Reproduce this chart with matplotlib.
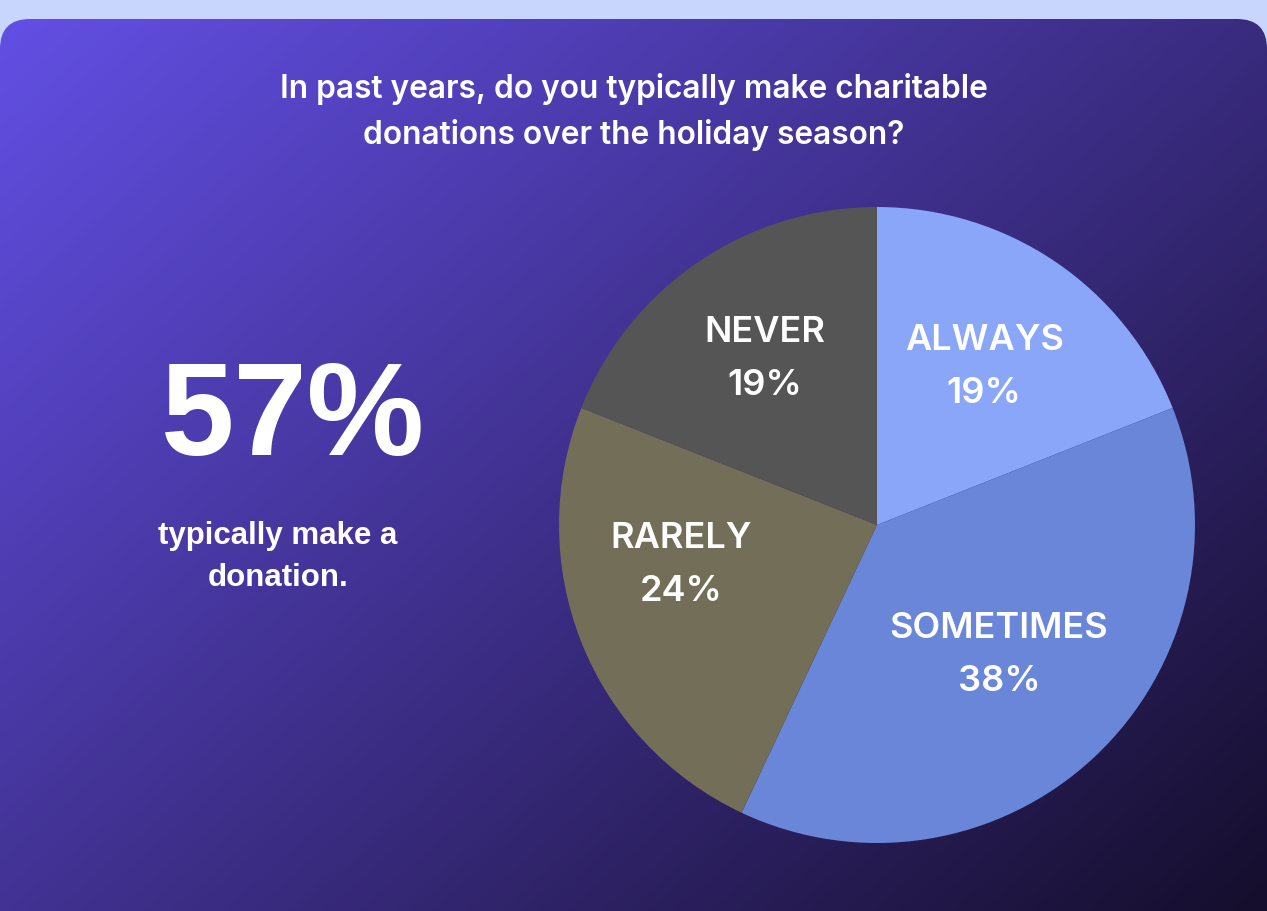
"""
Holiday giving survey: share of respondents who donate over the season.
Single pie on a gradient card, with the headline stat on the left.
"""

import matplotlib
matplotlib.use("Agg")
import matplotlib.pyplot as plt
import numpy as np
from matplotlib.colors import LinearSegmentedColormap
from matplotlib.patches import FancyBboxPatch

# data
categories = ["ALWAYS", "SOMETIMES", "RARELY", "NEVER"]
shares = [19, 38, 24, 19]
slice_colors = ["#89a6f8", "#6a86d8", "#736e58", "#555555"]
headline = "57%"
headline_note = "typically make a\ndonation."
title = ("In past years, do you typically make charitable\n"
         "donations over the holiday season?")

W, H = 1267, 911
fig = plt.figure(figsize=(W / 100, H / 100), dpi=100)
fig.patch.set_facecolor("#c8d5fc")

# background card with diagonal gradient, in pixel coords
bg = fig.add_axes([0, 0, 1, 1])
bg.set_xlim(0, W)
bg.set_ylim(H, 0)
bg.axis("off")
cmap = LinearSegmentedColormap.from_list(
    "card", ["#6350e6", "#3e2f8a", "#150e2c"])
yy, xx = np.mgrid[0:H:2, 0:W:2]
grad = (xx / W * 0.55 + yy / H * 0.45)
img = bg.imshow(grad, cmap=cmap, extent=(0, W, H, 0), aspect="auto",
                vmin=0, vmax=1, zorder=1)
card = FancyBboxPatch((0, 19), W, H + 60, boxstyle="round,pad=0,rounding_size=30",
                      transform=bg.transData, facecolor="none", edgecolor="none")
bg.add_patch(card)
img.set_clip_path(card)

bg.text(W / 2, 112, title, ha="center", va="center", color="white",
        fontsize=22.8, fontweight="semibold", family="Inter",
        linespacing=1.58, zorder=3)
bg.text(293, 420, headline, ha="center", va="center", color="white",
        fontsize=95, fontweight="bold", family="Liberation Sans", zorder=3)
bg.text(278, 557, headline_note, ha="center", va="center", color="white",
        fontsize=22.5, fontweight="bold", family="Liberation Sans",
        linespacing=1.55, zorder=3)

# pie axes: center (877, 525) px, radius 318 px
cx, cy, r = 877, 525, 318
ax = fig.add_axes([(cx - r) / W, 1 - (cy + r) / H, 2 * r / W, 2 * r / H])
wedges, _ = ax.pie(shares, colors=slice_colors, startangle=90,
                   counterclock=False, radius=1,
                   wedgeprops=dict(linewidth=0))
ax.set_xlim(-1, 1)
ax.set_ylim(-1, 1)
ax.axis("off")

# labels sit ~0.6 r along each wedge's mid angle, a few nudged by hand
angle_nudge = {"RARELY": -10}
dist = {"ALWAYS": 0.6, "SOMETIMES": 0.56, "RARELY": 0.63, "NEVER": 0.63}
for w, name, val in zip(wedges, categories, shares):
    ang = np.deg2rad((w.theta1 + w.theta2) / 2 + angle_nudge.get(name, 0))
    d = dist[name]
    ax.text(d * np.cos(ang), d * np.sin(ang), f"{name}\n{val}%",
            ha="center", va="center", color="white", fontsize=26,
            fontweight="semibold", family="Inter", linespacing=1.78)

fig.savefig("out.png", dpi=100, facecolor=fig.get_facecolor())
